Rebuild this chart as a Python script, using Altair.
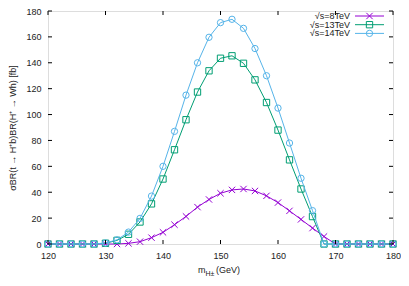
import altair as alt
import pandas as pd

mass = list(range(120, 182, 2))
v8 = [0, 0, 0, 0, 0, 0, 0, 0.5, 1.8, 4.9, 9, 14.9, 21.3, 28.5, 34.4, 39.2, 41.8, 42.5, 41, 37.2, 32, 25.6, 19, 12.3, 5.8, 0, 0, 0, 0, 0, 0]
v13 = [0, 0, 0, 0, 0, 0.6, 2.8, 7.5, 17, 31, 50.2, 72.8, 96, 117.4, 133.8, 143.5, 145.4, 139.6, 126.8, 109.3, 88, 65, 42.5, 21.2, 0, 0, 0, 0, 0, 0, 0]
v14 = [0, 0, 0, 0, 0, 0.8, 3.2, 9.2, 19.8, 37, 60, 87, 115, 140, 159.7, 171, 173.6, 166.6, 151, 130, 105, 78, 50.8, 25.8, 0, 0, 0, 0, 0, 0, 0]
series = ["√s=8TeV", "√s=13TeV", "√s=14TeV"]
colors = ["#9400D3", "#009E73", "#56B4E9"]
xticks = [120, 130, 140, 150, 160, 170, 180]
yticks = [0, 20, 40, 60, 80, 100, 120, 140, 160, 180]
ytitle = "σBR(t → H⁺b)BR(H⁺ → Wh) [fb]"

W, H = 345, 233
FONT = "Liberation Sans"
XSHAPE = "M-1,-1L1,1M-1,1L1,-1"
shapes = [XSHAPE, "square", "circle"]
TXT = "#222"

rows = []
for s, vals in zip(series, [v8, v13, v14]):
    for m, v in zip(mass, vals):
        rows.append({"mass": m, "value": v, "series": s})
df = pd.DataFrame(rows)

xs = alt.Scale(domain=[120, 180], nice=False)
ys = alt.Scale(domain=[0, 180], nice=False)
xax = alt.Axis(values=xticks, ticks=False, domain=False, grid=False, labelPadding=7, labelFlush=False,
               title=None, labelFont=FONT, labelFontSize=9, labelColor=TXT)
yax = alt.Axis(values=yticks, ticks=False, domain=False, grid=False, labelPadding=7, labelFlush=False,
               title=ytitle, titleFont=FONT, titleFontSize=9,
               titleFontWeight="normal", titlePadding=8, titleColor=TXT,
               labelFont=FONT, labelFontSize=9, labelColor=TXT)

def X(f):
    return alt.X(f, scale=xs, axis=xax, title=None)

def Y(f):
    return alt.Y(f, scale=ys, axis=yax, title=ytitle)

layers = []
for s, c, sh in zip(series, colors, shapes):
    d = df[df.series == s]
    ch = alt.Chart(d)
    layers.append(ch.mark_line(strokeWidth=1, color=c).encode(x=X("mass:Q"), y=Y("value:Q")))
    layers.append(ch.mark_point(shape=sh, size=40, filled=False, color=c, strokeWidth=1, opacity=1).encode(
        x=X("mass:Q"), y=Y("value:Q")))

# inward ticks
xt = pd.DataFrame({"mass": xticks})
yt = pd.DataFrame({"value": yticks})
tick_layers = [
    alt.Chart(xt).mark_rule(color="black", strokeWidth=1).encode(
        x=X("mass:Q"), y=alt.value(H), y2=alt.value(H - 4)),
    alt.Chart(xt).mark_rule(color="black", strokeWidth=1).encode(
        x=X("mass:Q"), y=alt.value(0), y2=alt.value(4)),
    alt.Chart(yt).mark_rule(color="black", strokeWidth=1).encode(
        y=Y("value:Q"), x=alt.value(0), x2=alt.value(4)),
    alt.Chart(yt).mark_rule(color="black", strokeWidth=1).encode(
        y=Y("value:Q"), x=alt.value(W), x2=alt.value(W - 4)),
]

# legend (label left, sample right)
leg = []
for i, (s, c, sh) in enumerate(zip(series, colors, shapes)):
    yy = 5 + i * 8.7
    one = pd.DataFrame({"k": [s]})
    leg.append(alt.Chart(one).mark_text(align="right", baseline="middle", font=FONT, fontSize=9, color=TXT).encode(
        text="k:N", x=alt.value(302), y=alt.value(yy)))
    leg.append(alt.Chart(one).mark_rule(color=c, strokeWidth=1).encode(
        x=alt.value(307), x2=alt.value(336), y=alt.value(yy)))
    leg.append(alt.Chart(one).mark_point(shape=sh, size=40, filled=False, color=c, strokeWidth=1, opacity=1).encode(
        x=alt.value(321.5), y=alt.value(yy)))

# x title with subscript
tt = pd.DataFrame({"a": ["m"], "b": ["H±"], "c": ["(GeV)"]})
xt_layers = [
    alt.Chart(tt).mark_text(align="left", baseline="alphabetic", font=FONT, fontSize=9, color=TXT).encode(
        text="a:N", x=alt.value(150), y=alt.value(H + 29)),
    alt.Chart(tt).mark_text(align="left", baseline="alphabetic", font=FONT, fontSize=7, color=TXT).encode(
        text="b:N", x=alt.value(157.5), y=alt.value(H + 32)),
    alt.Chart(tt).mark_text(align="left", baseline="alphabetic", font=FONT, fontSize=9, color=TXT).encode(
        text="c:N", x=alt.value(168), y=alt.value(H + 29)),
]

chart = alt.layer(*layers, *tick_layers, *leg, *xt_layers).properties(
    width=W, height=H, autosize=alt.AutoSizeParams(type="none"),
    padding={"left": 40, "top": 3, "right": 8, "bottom": 34},
).configure_view(stroke="black", strokeWidth=1).configure(background="white")

chart.save("out.html", embed_options={"renderer": "svg", "actions": False})
